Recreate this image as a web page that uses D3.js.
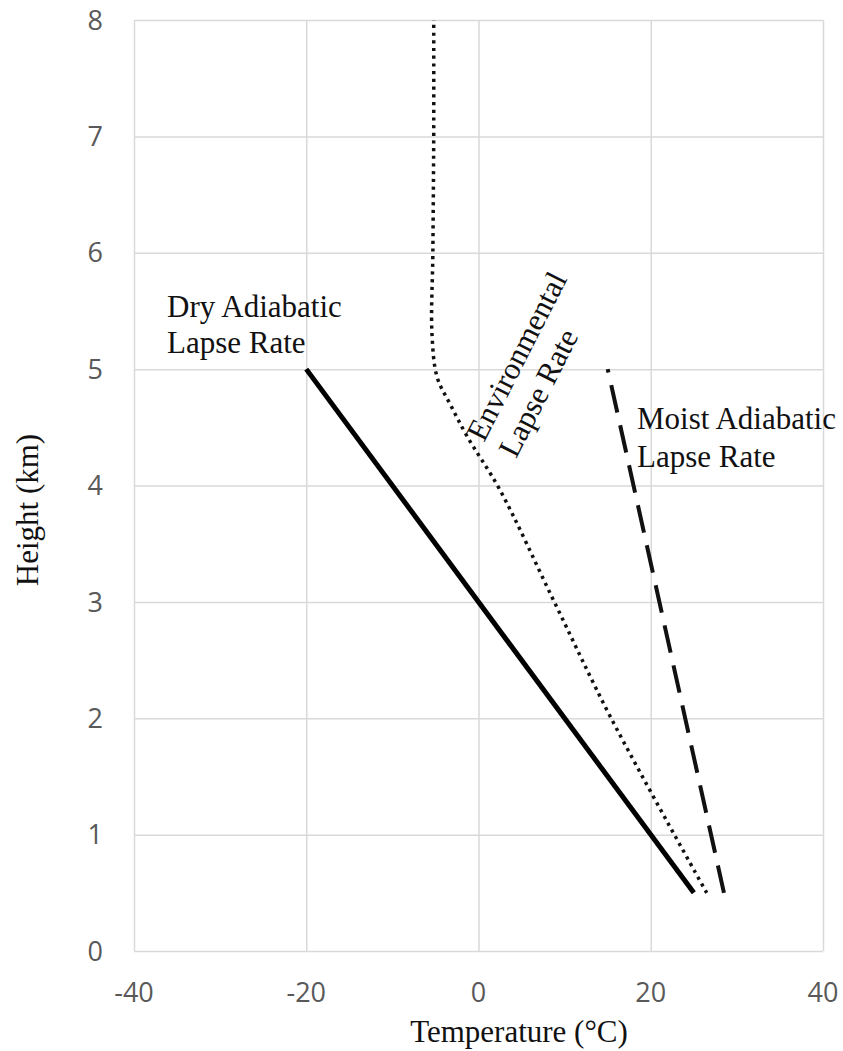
<!DOCTYPE html>
<html>
<head>
<meta charset="utf-8">
<script src="https://cdn.jsdelivr.net/npm/d3@7"></script>
<style>
  body { margin: 0; background: #fff; }
  .grid line { stroke: #d9d9d9; stroke-width: 1.5; }
  .grid .domain { display: none; }
  .tick-lab text { font-family: "Open Sans", sans-serif; font-size: 27px; fill: #595959; }
  .lbl { font-family: "Liberation Serif", "Times New Roman", serif; font-size: 31px; fill: #111; }
</style>
</head>
<body>
<script>
/* chart values */
var xTicks = [-40, -20, 0, 20, 40];
var yTicks = [0, 1, 2, 3, 4, 5, 6, 7, 8];

// dry adiabatic lapse rate (temp, height)
var dryTemp = [25, -20];
var dryHeight = [0.5, 5];

// moist adiabatic lapse rate
var moistTemp = [28.5, 15];
var moistHeight = [0.5, 5];

// environmental lapse rate
var envTemp = [26.5, 15.4, 8.8, 2.5, -1.3, -3.3, -4.8, -5.4, -5.3, -5.2, -5.2];
var envHeight = [0.5, 2, 3, 3.96, 4.42, 4.7, 4.93, 5.3, 6, 7, 8];

var margin = {top: 20, right: 20, bottom: 100, left: 134},
    width = 843 - margin.left - margin.right,
    height = 1051 - margin.top - margin.bottom;

var svg = d3.select("body")
    .append("svg")
    .attr("width", 843)
    .attr("height", 1051);

var g = svg.append("g")
    .attr("transform", "translate(" + margin.left + "," + margin.top + ")");

var x = d3.scaleLinear().domain([-40, 40]).range([0, 689]);
var y = d3.scaleLinear().domain([0, 8]).range([931, 0]);

/* gridlines */
g.append("g")
    .attr("class", "grid")
    .attr("transform", "translate(0,931)")
    .call(d3.axisBottom(x).tickValues(xTicks).tickSize(-931).tickFormat(""));
g.append("g")
    .attr("class", "grid")
    .call(d3.axisLeft(y).tickValues(yTicks).tickSize(-689).tickFormat(""));

/* tick labels */
var xl = g.append("g").attr("class", "tick-lab");
xl.selectAll("text")
    .data(xTicks)
    .enter()
    .append("text")
    .attr("x", function(d) { return x(d); })
    .attr("y", 982)
    .attr("text-anchor", "middle")
    .text(function(d) { return d; });

var yl = g.append("g").attr("class", "tick-lab");
yl.selectAll("text")
    .data(yTicks)
    .enter()
    .append("text")
    .attr("x", -31)
    .attr("y", function(d) { return y(d); })
    .attr("dy", "0.36em")
    .attr("text-anchor", "end")
    .text(function(d) { return d; });

/* the three lapse-rate lines */
function pts(t, h) {
    return t.map(function(v, i) { return [v, h[i]]; });
}
var line = d3.line()
    .x(function(d) { return x(d[0]); })
    .y(function(d) { return y(d[1]); });

g.append("path")
    .attr("d", line(pts(dryTemp, dryHeight)))
    .attr("fill", "none")
    .attr("stroke", "#000")
    .attr("stroke-width", 5);

g.append("path")
    .attr("d", line(pts(moistTemp, moistHeight)))
    .attr("fill", "none")
    .attr("stroke", "#111")
    .attr("stroke-width", 4)
    .attr("stroke-dasharray", "28 13");

g.append("path")
    .attr("d", line.curve(d3.curveCatmullRom)(pts(envTemp, envHeight)))
    .attr("fill", "none")
    .attr("stroke", "#111")
    .attr("stroke-width", 3.5)
    .attr("stroke-dasharray", "3.2 4.5");

/* labels */
var dry = svg.append("text").attr("class", "lbl");
dry.append("tspan").attr("x", 167).attr("y", 317).text("Dry Adiabatic");
dry.append("tspan").attr("x", 167).attr("y", 353).text("Lapse Rate");

var moist = svg.append("text").attr("class", "lbl");
moist.append("tspan").attr("x", 637).attr("y", 429).text("Moist Adiabatic");
moist.append("tspan").attr("x", 637).attr("y", 467).text("Lapse Rate");

var env = svg.append("text")
    .attr("class", "lbl")
    .attr("transform", "translate(484,443) rotate(-63)");
env.append("tspan").attr("x", 0).attr("y", 0).text("Environmental");
env.append("tspan").attr("x", 0).attr("y", 36).text("Lapse Rate");

svg.append("text")
    .attr("class", "lbl")
    .attr("text-anchor", "middle")
    .attr("x", 519)
    .attr("y", 1042)
    .text("Temperature (°C)");

svg.append("text")
    .attr("class", "lbl")
    .attr("text-anchor", "middle")
    .attr("transform", "translate(38,510) rotate(-90)")
    .text("Height (km)");
</script>
</body>
</html>
